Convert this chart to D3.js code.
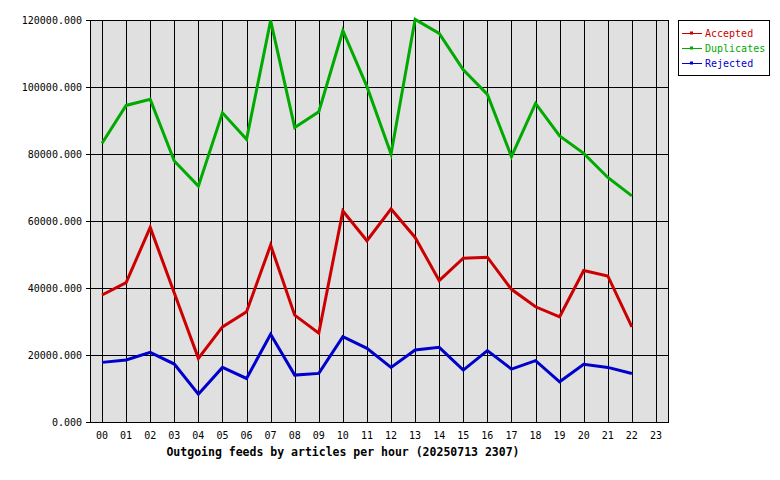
<!DOCTYPE html>
<html><head><meta charset="utf-8">
<script src="https://cdn.jsdelivr.net/npm/d3@7"></script>
<style>
body { margin: 0; background: #fff; }
text { font-family: "DejaVu Sans Mono", monospace; font-size: 10px; }
</style></head>
<body><div id="vis"></div>
<script>
var width = 780, height = 480;

var hours = ['00','01','02','03','04','05','06','07','08','09','10','11','12','13','14','15','16','17','18','19','20','21','22','23'];
var accepted = [37900,41600,58100,38500,19000,28400,32900,52800,31900,26500,63000,54100,63600,55100,42200,48900,49200,39600,34400,31400,45200,43600,28400];
var duplicates = [83200,94500,96300,77900,70400,92300,84400,119800,87900,92600,116800,100100,80000,120200,116000,105100,97800,79200,95100,85400,80200,73000,67500];
var rejected = [17800,18500,20800,17300,8300,16300,13000,26200,14000,14500,25500,22000,16300,21500,22300,15500,21300,15800,18300,12000,17200,16300,14500];
var yTicks = [0,20000,40000,60000,80000,100000,120000];

var series = [
  { name: 'Accepted', values: accepted, color: '#cc0000' },
  { name: 'Duplicates', values: duplicates, color: '#00aa00' },
  { name: 'Rejected', values: rejected, color: '#0000cc' }
];

var plotLeft = 90, plotRight = 668, plotTop = 20, plotBottom = 422;

var x = d3.scaleBand().domain( hours ).range( [ plotLeft, plotRight ] );
var y = d3.scaleLinear().domain( [ 0, 120000 ] ).range( [ plotBottom, plotTop ] );
var cx = h => x( h ) + x.bandwidth() / 2;

var svg = d3.select( '#vis' ).append( 'svg' )
  .attr( 'width', width )
  .attr( 'height', height );

svg.append( 'rect' )
  .attr( 'x', plotLeft ).attr( 'y', plotTop )
  .attr( 'width', plotRight - plotLeft ).attr( 'height', plotBottom - plotTop )
  .attr( 'fill', '#e0e0e0' );

// grid
svg.selectAll( 'line.vgrid' )
  .data( hours )
  .enter().append( 'line' )
    .attr( 'x1', d => Math.round( cx( d ) ) + .5 ).attr( 'x2', d => Math.round( cx( d ) ) + .5 )
    .attr( 'y1', plotTop ).attr( 'y2', plotBottom )
    .attr( 'stroke', '#000' );

svg.selectAll( 'line.hgrid' )
  .data( yTicks )
  .enter().append( 'line' )
    .attr( 'x1', plotLeft - 4 ).attr( 'x2', plotRight )
    .attr( 'y1', d => Math.round( y( d ) ) + .5 ).attr( 'y2', d => Math.round( y( d ) ) + .5 )
    .attr( 'stroke', '#000' );

svg.append( 'rect' )
  .attr( 'x', plotLeft + .5 ).attr( 'y', plotTop + .5 )
  .attr( 'width', plotRight - plotLeft ).attr( 'height', plotBottom - plotTop )
  .attr( 'fill', 'none' ).attr( 'stroke', '#000' );

svg.selectAll( 'text.ylab' )
  .data( yTicks )
  .enter().append( 'text' )
    .attr( 'x', plotLeft - 8 ).attr( 'y', d => y( d ) + 4 )
    .attr( 'text-anchor', 'end' )
    .text( d => d3.format( '.3f' )( d ) );

svg.selectAll( 'text.xlab' )
  .data( hours )
  .enter().append( 'text' )
    .attr( 'x', d => cx( d ) ).attr( 'y', 439 )
    .attr( 'text-anchor', 'middle' )
    .text( d => d );

svg.append( 'text' )
  .attr( 'x', 343 ).attr( 'y', 456 )
  .attr( 'text-anchor', 'middle' )
  .style( 'font-weight', 'bold' )
  .style( 'font-size', '11.5px' )
  .text( 'Outgoing feeds by articles per hour (20250713 2307)' );

// lines
var line = d3.line()
  .x( ( d, i ) => cx( hours[ i ] ) )
  .y( d => y( d ) );

svg.selectAll( 'path.series' )
  .data( series )
  .enter().append( 'path' )
    .attr( 'd', d => line( d.values ) )
    .attr( 'fill', 'none' )
    .attr( 'stroke', d => d.color )
    .attr( 'stroke-width', 3 );

// legend
svg.append( 'rect' )
  .attr( 'x', 678.5 ).attr( 'y', 20.5 )
  .attr( 'width', 91 ).attr( 'height', 55 )
  .attr( 'fill', '#fff' ).attr( 'stroke', '#000' );

var leg = svg.selectAll( 'g.leg' )
  .data( series )
  .enter().append( 'g' )
    .attr( 'transform', ( d, i ) => 'translate(682,' + ( 33.5 + i * 15 ) + ')' );

leg.append( 'line' )
  .attr( 'x1', 0 ).attr( 'x2', 20 )
  .attr( 'stroke', d => d.color );
leg.append( 'rect' )
  .attr( 'x', 8.5 ).attr( 'y', -1.5 ).attr( 'width', 2 ).attr( 'height', 2 )
  .attr( 'fill', '#fff' ).attr( 'stroke', d => d.color );
leg.append( 'text' )
  .attr( 'x', 23 ).attr( 'y', 3.5 )
  .attr( 'fill', d => d.color )
  .text( d => d.name );
</script>
</body></html>
